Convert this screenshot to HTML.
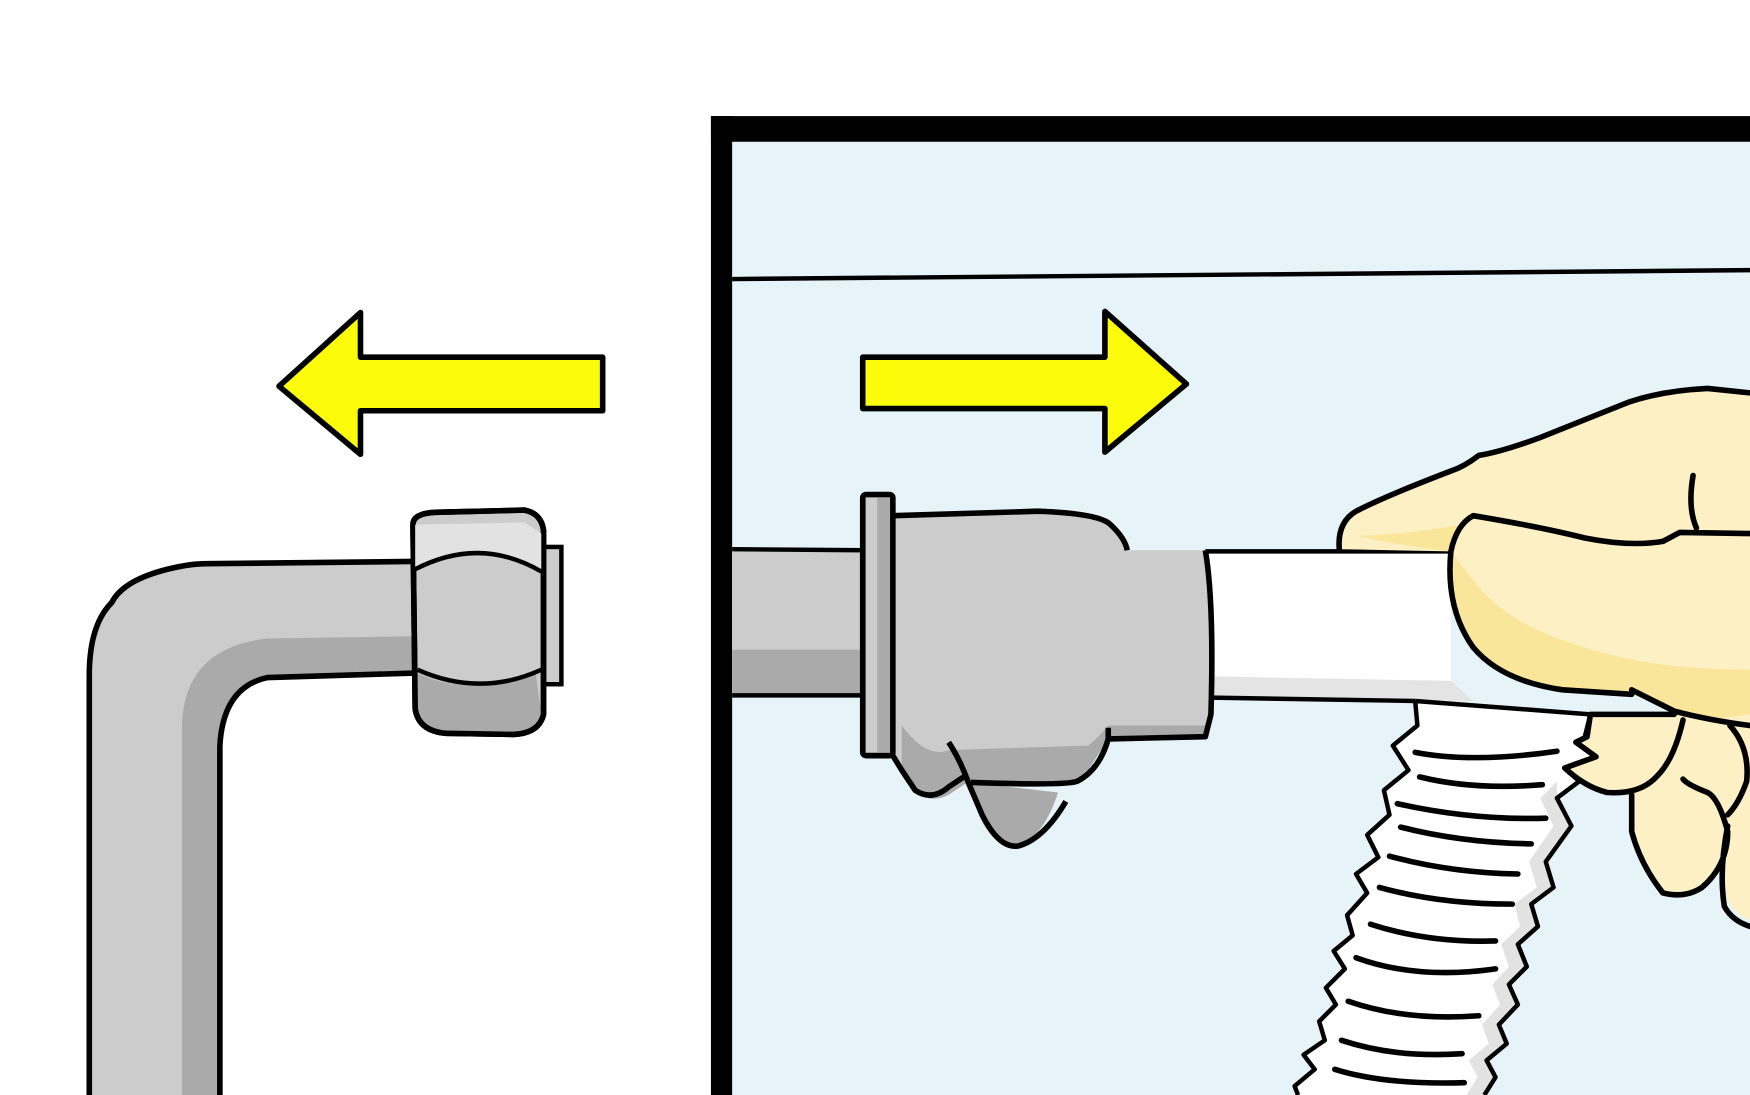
<!DOCTYPE html>
<html><head><meta charset="utf-8"><style>html,body{margin:0;padding:0;background:#fff}svg{display:block}</style></head>
<body>
<svg width="1750" height="1095" viewBox="0 0 1568 981" preserveAspectRatio="none" xmlns="http://www.w3.org/2000/svg">
<rect width="1568" height="981" fill="#fff"/>
<rect x="656" y="127" width="912" height="854" fill="#e6f3f8"/>
<rect x="637" y="104" width="931" height="23" fill="#000"/>
<rect x="637" y="104" width="19" height="877" fill="#000"/>
<path d="M656 250 L1568 242" stroke="#000" stroke-width="4" fill="none"/>
<polygon points="250,346 323,280 323,320 540,320 540,368 323,368 323,407" fill="#fbfb0a" stroke="#000" stroke-width="5" stroke-linejoin="round"/>
<polygon points="773,320 990,320 990,279 1063,344 990,405 990,366 773,366" fill="#fbfb0a" stroke="#000" stroke-width="5" stroke-linejoin="round"/>
<path d="M80 981 L80 605 Q80 560 100 540 Q110 520 150 510 Q170 505 185 505 L370 503 L372 603 L240 607 Q200 615 197 668 L197 981 Z" fill="#cccccc"/>
<path d="M163 981 L163 650 Q165 580 240 572 L370 570 L372 603 L240 607 Q200 615 197 668 L197 981 Z" fill="#aaaaaa"/>
<path d="M80 981 L80 605 Q80 560 100 540 Q110 520 150 510 Q170 505 185 505 L370 503 M372 603 L240 607 Q200 615 197 668 L197 981" fill="none" stroke="#000" stroke-width="5"/>
<rect x="485" y="490" width="18" height="123" fill="#ccc" stroke="#000" stroke-width="4"/>
<path d="M370 470 Q370 460 390 459 L470 457 Q485 460 487 475 L487 640 Q483 657 460 658 L400 657 Q375 655 372 635 Z" fill="#cccccc" stroke="#000" stroke-width="5"/>
<path d="M374 603 Q420 625 480 603 L485 640 Q480 657 460 658 L400 657 Q377 655 374 635 Z" fill="#aaa"/>
<path d="M370 470 Q370 460 390 459 L470 457 Q485 460 487 475 L487 640 Q483 657 460 658 L400 657 Q375 655 372 635 Z" fill="none" stroke="#000" stroke-width="5"/>
<path d="M372 470 L470 468 L485 478 L485 512 Q430 480 372 510 Z" fill="#e2e2e2"/>
<path d="M372 510 Q430 480 485 512 M374 600 Q430 625 485 600" fill="none" stroke="#000" stroke-width="4"/>
<rect x="656" y="492" width="120" height="131" fill="#ccc"/>
<rect x="656" y="582" width="120" height="41" fill="#aaa"/>
<path d="M656 492 L776 493 M656 623 L776 623" stroke="#000" stroke-width="4"/>
<path d="M1080 494 L1300 494 L1300 628 L1085 625 Z" fill="#fff"/>
<path d="M1088 606 L1300 610 L1320 628 L1088 625 Z" fill="#e4e4e4"/>
<path d="M1080 494 L1300 494 M1085 625 L1268 628" stroke="#000" stroke-width="4" fill="none"/>
<path d="M1268 628 L1270 650 L1248 668 L1262 690 L1240 708 L1245 730 L1225 748 L1235 768 L1215 783 L1225 800 L1207 820 L1212 838 L1195 852 L1205 868 L1188 885 L1197 900 L1182 915 L1187 932 L1168 945 L1178 958 L1160 973 L1163 981 L1330 981 L1340 965 L1332 950 L1350 935 L1343 918 L1360 900 L1352 882 L1368 866 L1360 846 L1378 830 L1372 810 L1392 795 L1385 772 L1408 740 L1395 715 L1415 700 L1402 688 L1430 678 L1420 660 L1425 640 Z" fill="#fff"/>
<path d="M1395 700 L1380 715 L1392 740 L1370 772 L1377 795 L1357 810 L1362 830 L1345 846 L1352 866 L1337 882 L1344 900 L1328 918 L1334 935 L1316 950 L1324 965 L1314 981 L1330 981 L1340 965 L1332 950 L1350 935 L1343 918 L1360 900 L1352 882 L1368 866 L1360 846 L1378 830 L1372 810 L1392 795 L1385 772 L1408 740 L1395 715 Z" fill="#e2e2e2"/>
<path d="M1268 628 L1270 650 L1248 668 L1262 690 L1240 708 L1245 730 L1225 748 L1235 768 L1215 783 L1225 800 L1207 820 L1212 838 L1195 852 L1205 868 L1188 885 L1197 900 L1182 915 L1187 932 L1168 945 L1178 958 L1160 973 L1163 981 M1330 981 L1340 965 L1332 950 L1350 935 L1343 918 L1360 900 L1352 882 L1368 866 L1360 846 L1378 830 L1372 810 L1392 795 L1385 772 L1408 740 L1395 715 L1415 700 L1402 688 L1430 678 L1420 660 L1425 640 L1268 628" fill="none" stroke="#000" stroke-width="4" stroke-linejoin="round"/>
<g stroke="#000" stroke-width="5" stroke-linecap="round" fill="none">
<path d="M1268 674 Q1320 684 1395 673"/><path d="M1272 696 Q1320 708 1382 703"/><path d="M1252 720 Q1320 735 1385 733"/>
<path d="M1255 741 Q1310 755 1372 756"/><path d="M1245 767 Q1300 782 1360 783"/><path d="M1236 795 Q1290 810 1355 810"/>
<path d="M1228 828 Q1280 845 1340 843"/><path d="M1215 858 Q1270 878 1340 868"/><path d="M1208 897 Q1260 915 1325 910"/>
<path d="M1202 932 Q1250 948 1310 944"/><path d="M1196 958 Q1240 972 1312 970"/>
</g>
<path d="M800 462 L930 458 Q985 460 995 470 Q1008 482 1010 493 L1080 493 Q1088 540 1085 640 L1080 660 L993 662 L975 690 Q960 705 930 702 L870 701 L880 730 Q895 760 912 758 Q930 755 955 718 L940 740 Q920 760 905 758 Q888 755 878 732 L865 702 L850 712 Q835 720 820 710 L808 690 L800 677 Z" fill="#cccccc"/>
<path d="M808 650 Q830 680 850 672 L975 668 Q985 660 993 650 L1083 650 L1080 660 L993 662 L975 690 Q960 705 930 702 L870 701 L880 730 Q895 760 912 758 Q935 750 948 710 L870 701 L865 702 L850 712 Q835 720 820 710 L808 690 Z" fill="#aaa"/>
<path d="M800 462 L930 458 Q985 460 995 470 Q1008 482 1010 493 M1080 493 Q1088 540 1085 640 L1080 660 L993 662 Q985 690 965 700 Q955 704 870 701 M993 652 L993 662 M800 677 L808 690 L820 708 Q835 718 850 705 L865 695 M850 665 Q860 680 868 702 L880 730 Q895 760 912 758 Q935 752 955 718" fill="none" stroke="#000" stroke-width="5" stroke-linejoin="round"/>
<rect x="773" y="443" width="27" height="234" rx="3" fill="#aaa" stroke="#000" stroke-width="5"/>
<rect x="776" y="446" width="10" height="228" fill="#ccc"/>
<path d="M1568 352 L1530 348 Q1490 350 1460 360 L1380 392 Q1345 405 1325 408 Q1312 418 1300 422 Q1240 445 1215 458 Q1198 468 1200 492 L1300 494 Q1295 545 1320 580 Q1345 610 1400 618 L1462 622 L1500 637 L1425 640 L1422 660 L1412 665 L1430 678 L1402 688 Q1420 705 1440 710 L1460 712 L1462 745 Q1470 775 1490 800 Q1510 805 1525 795 L1540 780 Q1545 815 1568 825 Z" fill="#fdf0c4"/>
<path d="M1300 494 Q1295 545 1320 580 Q1345 610 1400 618 L1462 622 L1500 637 L1530 645 L1568 640 L1568 600 Q1480 600 1420 580 Q1350 560 1320 520 Z" fill="#fae69a"/>
<path d="M1215 480 Q1260 490 1300 494 L1310 470 Q1250 480 1215 480 Z" fill="#fae69a"/>
<path d="M1568 352 L1530 348 Q1490 350 1460 360 L1380 392 Q1345 405 1325 408 Q1312 418 1300 422 Q1240 445 1215 458 Q1198 468 1200 492 M1300 494 Q1295 545 1320 580 Q1345 610 1400 618 L1462 622 M1462 618 L1500 637 Q1530 645 1568 650 M1300 494 Q1305 470 1320 462 Q1380 472 1420 482 Q1460 490 1490 485 L1505 477 L1568 478 M1517 426 Q1512 455 1520 473 M1500 640 L1425 640 L1422 660 L1412 665 L1430 678 L1402 688 Q1420 705 1440 710 Q1470 712 1485 695 Q1500 680 1508 645 M1462 712 L1462 745 Q1470 775 1490 800 Q1510 805 1525 795 Q1548 775 1548 745 Q1540 715 1530 710 Q1512 703 1508 698 M1548 740 Q1540 780 1545 812 Q1552 825 1568 830 M1550 650 Q1568 670 1565 700 Q1558 720 1548 730" fill="none" stroke="#000" stroke-width="5" stroke-linejoin="round" stroke-linecap="round"/>
</svg>
</body></html>
